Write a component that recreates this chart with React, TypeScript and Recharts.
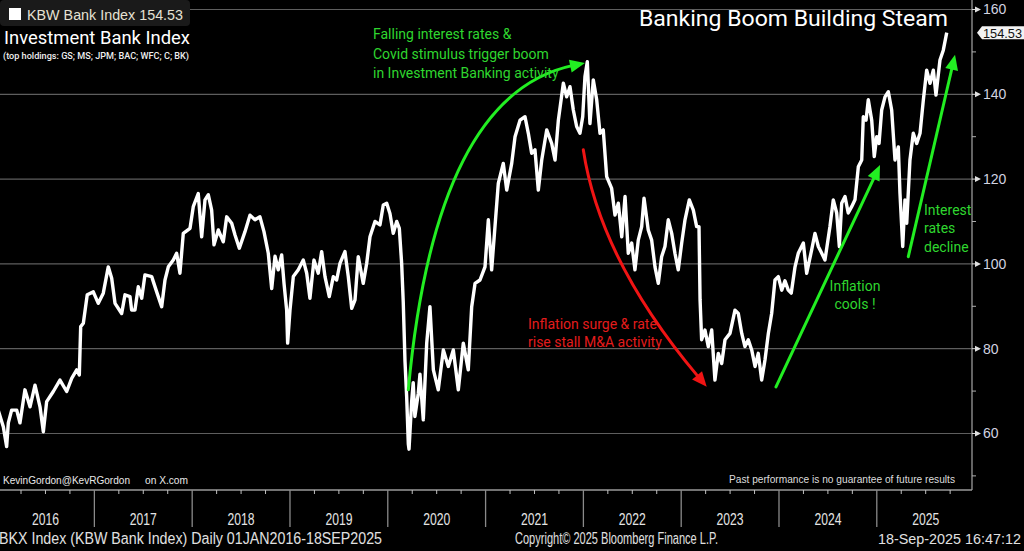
import React from 'react';
import { ComposedChart, Line, XAxis, YAxis, CartesianGrid, ReferenceLine } from 'recharts';

// Time axis in decimal years, and KBW Bank Index values
const TIME_YEARS: number[] = [
  2016.010, 2016.069, 2016.103, 2016.120, 2016.154, 2016.206, 2016.239, 2016.290, 2016.342, 2016.393,
  2016.444, 2016.478, 2016.512, 2016.580, 2016.648, 2016.717, 2016.768, 2016.819, 2016.846, 2016.860,
  2016.887, 2016.927, 2016.989, 2017.040, 2017.091, 2017.142, 2017.177, 2017.211, 2017.279, 2017.313,
  2017.364, 2017.381, 2017.415, 2017.449, 2017.484, 2017.517, 2017.586, 2017.637, 2017.688, 2017.722,
  2017.756, 2017.807, 2017.841, 2017.875, 2017.909, 2017.978, 2018.011, 2018.062, 2018.097, 2018.131,
  2018.165, 2018.199, 2018.223, 2018.267, 2018.318, 2018.353, 2018.404, 2018.438, 2018.482, 2018.540,
  2018.591, 2018.642, 2018.693, 2018.734, 2018.778, 2018.813, 2018.847, 2018.880, 2018.915, 2018.939,
  2018.966, 2018.976, 2019.000, 2019.034, 2019.085, 2019.136, 2019.171, 2019.204, 2019.245, 2019.289,
  2019.324, 2019.358, 2019.402, 2019.443, 2019.477, 2019.511, 2019.562, 2019.596, 2019.631, 2019.665,
  2019.698, 2019.749, 2019.784, 2019.818, 2019.869, 2019.920, 2019.954, 2019.989, 2020.022, 2020.056,
  2020.091, 2020.118, 2020.142, 2020.158, 2020.176, 2020.193, 2020.210, 2020.217, 2020.244, 2020.260,
  2020.277, 2020.312, 2020.329, 2020.363, 2020.398, 2020.431, 2020.466, 2020.516, 2020.568, 2020.619,
  2020.670, 2020.721, 2020.772, 2020.823, 2020.858, 2020.892, 2020.943, 2020.994, 2021.028, 2021.062,
  2021.096, 2021.130, 2021.181, 2021.216, 2021.267, 2021.301, 2021.352, 2021.403, 2021.437, 2021.471,
  2021.505, 2021.539, 2021.574, 2021.625, 2021.676, 2021.710, 2021.744, 2021.795, 2021.829, 2021.863,
  2021.897, 2021.931, 2021.965, 2021.993, 2022.016, 2022.040, 2022.067, 2022.101, 2022.136, 2022.170,
  2022.203, 2022.238, 2022.289, 2022.323, 2022.357, 2022.392, 2022.426, 2022.459, 2022.494, 2022.527,
  2022.561, 2022.596, 2022.620, 2022.663, 2022.698, 2022.732, 2022.766, 2022.800, 2022.834, 2022.868,
  2022.903, 2022.936, 2022.970, 2023.005, 2023.039, 2023.083, 2023.124, 2023.158, 2023.182, 2023.193,
  2023.209, 2023.243, 2023.277, 2023.312, 2023.345, 2023.379, 2023.414, 2023.448, 2023.499, 2023.550,
  2023.584, 2023.619, 2023.652, 2023.686, 2023.721, 2023.755, 2023.788, 2023.823, 2023.857, 2023.891,
  2023.925, 2023.959, 2023.993, 2024.028, 2024.061, 2024.095, 2024.125, 2024.164, 2024.197, 2024.249,
  2024.283, 2024.334, 2024.368, 2024.402, 2024.437, 2024.470, 2024.521, 2024.555, 2024.590, 2024.617,
  2024.641, 2024.675, 2024.708, 2024.743, 2024.777, 2024.811, 2024.846, 2024.862, 2024.890, 2024.913,
  2024.948, 2024.974, 2024.999, 2025.023, 2025.050, 2025.084, 2025.118, 2025.152, 2025.186, 2025.220,
  2025.237, 2025.265, 2025.288, 2025.306, 2025.339, 2025.373, 2025.408, 2025.442, 2025.476, 2025.510,
  2025.544, 2025.578, 2025.605, 2025.646, 2025.680, 2025.715,
];

const BKX_VALUES: number[] = [
  66.0, 61.6, 56.9, 62.5, 65.5, 65.5, 62.5, 70.3, 66.3, 71.4,
  66.3, 60.4, 67.5, 69.9, 72.6, 69.9, 73.0, 75.0, 73.8, 85.2,
  86.0, 92.7, 93.4, 90.7, 93.1, 99.3, 96.6, 90.7, 88.3, 92.7,
  92.3, 89.1, 89.1, 94.6, 91.9, 97.4, 97.0, 93.4, 89.9, 96.2,
  99.3, 100.9, 102.5, 97.8, 107.2, 108.4, 113.5, 116.6, 106.4, 115.1,
  116.3, 112.7, 104.5, 108.0, 105.2, 111.1, 109.6, 106.8, 103.7, 107.6,
  111.5, 110.4, 111.1, 107.6, 102.5, 94.2, 101.8, 98.6, 102.1, 95.4,
  89.1, 81.3, 89.1, 97.0, 98.6, 100.9, 97.8, 91.9, 100.9, 97.8,
  102.9, 97.0, 92.3, 97.0, 96.2, 100.1, 102.9, 97.0, 89.5, 91.5,
  101.7, 95.4, 100.1, 106.4, 110.0, 109.2, 113.9, 114.3, 111.9, 107.2,
  110.0, 108.4, 100.0, 91.0, 77.0, 68.7, 57.5, 56.3, 67.5, 72.0,
  64.0, 69.5, 74.0, 63.2, 81.3, 89.9, 75.0, 70.3, 79.7, 75.8,
  79.7, 70.3, 81.3, 75.0, 89.9, 95.4, 96.2, 99.3, 110.4, 98.6,
  108.8, 119.0, 123.7, 117.4, 123.7, 130.0, 133.9, 134.7, 130.8, 126.1,
  126.9, 117.4, 124.5, 131.6, 128.4, 124.5, 133.9, 142.6, 139.4, 141.8,
  136.3, 132.4, 130.8, 134.7, 144.2, 147.7, 133.1, 143.4, 138.7, 130.8,
  131.6, 120.6, 117.8, 111.5, 114.3, 106.4, 115.9, 102.5, 104.9, 98.6,
  105.6, 108.8, 115.5, 108.0, 105.6, 99.3, 95.4, 101.7, 104.1, 110.4,
  107.2, 102.5, 98.6, 104.9, 110.4, 115.1, 112.7, 108.8, 108.8, 91.5,
  82.1, 84.4, 80.5, 84.4, 72.6, 78.9, 76.5, 82.1, 83.6, 89.1,
  88.3, 83.6, 80.5, 82.1, 79.7, 75.8, 78.9, 72.6, 77.4, 83.6,
  88.3, 96.2, 97.0, 93.8, 96.0, 93.8, 93.1, 99.3, 102.5, 104.9,
  97.8, 103.3, 107.2, 104.1, 102.5, 100.9, 108.8, 115.1, 112.0, 104.1,
  114.3, 115.9, 112.0, 113.5, 115.1, 122.9, 124.5, 134.7, 133.9, 138.7,
  133.9, 125.3, 130.0, 128.4, 136.3, 139.4, 140.6, 136.3, 124.5, 127.6,
  116.6, 104.1, 115.1, 109.6, 124.5, 130.8, 128.4, 130.8, 138.7, 145.7,
  142.6, 145.7, 139.8, 148.1, 150.4, 154.53,
];

const LAST_VALUE = 154.53;
const Y_TICKS = [50, 60, 70, 80, 90, 100, 110, 120, 130, 140, 150, 160];
const GRID_VALUES = [60, 80, 100, 120, 140, 160];
const QUARTER_TICKS = [
  2016.25, 2016.5, 2016.75, 2017, 2017.25, 2017.5, 2017.75, 2018, 2018.25, 2018.5, 2018.75,
  2019, 2019.25, 2019.5, 2019.75, 2020, 2020.25, 2020.5, 2020.75, 2021, 2021.25, 2021.5, 2021.75,
  2022, 2022.25, 2022.5, 2022.75, 2023, 2023.25, 2023.5, 2023.75, 2024, 2024.25, 2024.5, 2024.75,
  2025, 2025.25, 2025.5, 2025.75,
];
const YEAR_LABEL_TICKS = [2016.5, 2017.5, 2018.5, 2019.5, 2020.5, 2021.5, 2022.5, 2023.5, 2024.5, 2025.5];
const YEAR_LABELS = ['2016', '2017', '2018', '2019', '2020', '2021', '2022', '2023', '2024', '2025'];

const GREEN = '#22ee22';
const GREEN_TEXT = '#2fd62f';
const RED = '#f01414';
const RED_TEXT = '#e41c1c';

// Annotation arrows anchored in data coordinates (time, index value)
const ARROWS = [
  { from: { t: 2020.21, v: 70.3 }, to: { t: 2022.016, v: 147.4 }, color: GREEN, bend: [0.153, 0.902] },
  { from: { t: 2021.999, v: 126.9 }, to: { t: 2023.261, v: 71.0 }, color: RED, bend: [0.135, 0.465] },
  { from: { t: 2023.969, v: 71.0 }, to: { t: 2025.033, v: 123.3 }, color: GREEN, bend: null },
  { from: { t: 2025.322, v: 101.7 }, to: { t: 2025.8, v: 149.3 }, color: GREEN, bend: null },
];

const BB_FONT = "'Liberation Sans', Arial, sans-serif";
const RB_FONT = "Roboto, 'Noto Sans', sans-serif";

function makeArrowShape(color: string, bend: number[] | null) {
  return (props: any) => {
    const { x1, y1, x2, y2 } = props;
    if ([x1, y1, x2, y2].some((n) => typeof n !== 'number' || isNaN(n))) return <g />;
    const cx = bend ? x1 + bend[0] * (x2 - x1) : (x1 + x2) / 2;
    const cy = bend ? y1 + bend[1] * (y2 - y1) : (y1 + y2) / 2;
    let dx = x2 - cx;
    let dy = y2 - cy;
    const len = Math.hypot(dx, dy) || 1;
    dx /= len;
    dy /= len;
    const headLen = 15;
    const headW = 6.5;
    const bx = x2 - dx * headLen;
    const by = y2 - dy * headLen;
    const d = bend ? `M${x1},${y1} Q${cx},${cy} ${bx + dx * 2},${by + dy * 2}` : `M${x1},${y1} L${bx + dx * 2},${by + dy * 2}`;
    const pts = `${x2},${y2} ${bx - dy * headW},${by + dx * headW} ${bx + dy * headW},${by - dx * headW}`;
    return (
      <g>
        <path d={d} fill="none" stroke={color} strokeWidth={3} strokeLinecap="round" />
        <polygon points={pts} fill={color} />
      </g>
    );
  };
}

function XTick(props: any) {
  const { x, y, payload } = props;
  const v: number = payload.value;
  const frac = Math.round((v - Math.floor(v)) * 4);
  const idx = YEAR_LABEL_TICKS.indexOf(v);
  return (
    <g>
      {frac === 0 ? (
        <line x1={x} x2={x} y1={y} y2={y + 37} stroke="#8a8a8a" strokeWidth={1.3} />
      ) : (
        <line x1={x} x2={x} y1={y} y2={y + 4} stroke="#c0c0c0" strokeWidth={1} />
      )}
      {idx >= 0 && (
        <text x={x} y={y + 35} textAnchor="middle" fontFamily={BB_FONT} fontSize={16} fill="#e4e4e4" textLength={27} lengthAdjust="spacingAndGlyphs">
          {YEAR_LABELS[idx]}
        </text>
      )}
    </g>
  );
}

function YTick(props: any) {
  const { x, y, payload } = props;
  const v: number = payload.value;
  if (v === LAST_VALUE) {
    return (
      <g>
        <polygon points={`${x + 5},${y} ${x + 10},${y - 6.5} ${x + 60},${y - 6.5} ${x + 60},${y + 6.5} ${x + 10},${y + 6.5}`} fill="#f2f2f2" />
        <text x={x + 11} y={y + 5} fontFamily={BB_FONT} fontSize={13.5} fill="#111" textLength={39} lengthAdjust="spacingAndGlyphs">
          {LAST_VALUE.toFixed(2)}
        </text>
      </g>
    );
  }
  if (v % 20 === 0) {
    return (
      <g>
        <line x1={x} x2={x + 4} y1={y} y2={y} stroke="#dcdcdc" strokeWidth={1} />
        <polygon points={`${x + 3},${y - 3} ${x + 9},${y} ${x + 3},${y + 3}`} fill="#e0e0e0" />
        <text x={x + 11} y={y + 5} fontFamily={BB_FONT} fontSize={14} fill="#d2d3e0">
          {String(v)}
        </text>
      </g>
    );
  }
  return <line x1={x} x2={x + 4} y1={y} y2={y} stroke="#b0b0b0" strokeWidth={1} />;
}

export default function App() {
  const n = Math.min(TIME_YEARS.length, BKX_VALUES.length);
  const data = TIME_YEARS.slice(0, n).map((t, i) => ({ t, v: BKX_VALUES[i] }));
  const yTicks = [...Y_TICKS, LAST_VALUE];
  return (
    <div style={{ position: 'fixed', left: 0, top: 0, width: 1024, height: 551, background: '#000', overflow: 'hidden' }}>
      <ComposedChart width={1024} height={551} data={data} margin={{ top: 0, right: 0, bottom: 20, left: 0 }}>
        <CartesianGrid vertical={false} horizontalValues={GRID_VALUES} stroke="#5e5e5e" strokeWidth={1.2} />
        <XAxis
          type="number"
          dataKey="t"
          domain={[2016.035, 2025.9734]}
          allowDataOverflow
          ticks={QUARTER_TICKS}
          interval={0}
          tick={(p: any) => <XTick {...p} />}
          tickLine={false}
          tickSize={0}
          tickMargin={0}
          height={41}
          axisLine={{ stroke: '#9a9a9a', strokeWidth: 1.3 }}
        />
        <YAxis
          orientation="right"
          type="number"
          domain={[46.67, 162.24]}
          allowDataOverflow
          ticks={yTicks}
          interval={0}
          tick={(p: any) => <YTick {...p} />}
          tickLine={false}
          tickSize={0}
          tickMargin={0}
          width={52}
          axisLine={{ stroke: '#9a9a9a', strokeWidth: 1.3 }}
        />
        <Line type="linear" dataKey="v" stroke="#ffffff" strokeWidth={3.4} strokeLinejoin="round" dot={false} activeDot={false} isAnimationActive={false} />
        {ARROWS.map((a, i) => (
          <ReferenceLine
            key={i}
            segment={[{ x: a.from.t, y: a.from.v }, { x: a.to.t, y: a.to.v }]}
            ifOverflow="visible"
            shape={makeArrowShape(a.color, a.bend)}
          />
        ))}
      </ComposedChart>
      <svg width={1024} height={551} style={{ position: 'absolute', left: 0, top: 0, pointerEvents: 'none' }}>
        {/* legend box */}
        <rect x={0} y={0} width={190} height={26} rx={4} fill="#1a1a1a" />
        <rect x={9} y={8} width={12} height={12} fill="#ffffff" />
        <text x={27} y={20} fontFamily={BB_FONT} fontSize={14} fill="#e6e2d4" textLength={156} lengthAdjust="spacingAndGlyphs">
          {`KBW Bank Index ${LAST_VALUE.toFixed(2)}`}
        </text>
        <text x={4} y={44} fontFamily={RB_FONT} fontSize={18} fill="#ffffff" textLength={186} lengthAdjust="spacingAndGlyphs">
          Investment Bank Index
        </text>
        <text x={3} y={59} fontFamily={RB_FONT} fontSize={9.5} fontWeight={500} fill="#eeeeee" textLength={186} lengthAdjust="spacingAndGlyphs">
          (top holdings: GS; MS; JPM; BAC; WFC; C; BK)
        </text>
        <text x={639} y={26} fontFamily={RB_FONT} fontSize={22} fill="#ffffff" textLength={309} lengthAdjust="spacingAndGlyphs">
          Banking Boom Building Steam
        </text>

        {/* annotations */}
        <g fontFamily={RB_FONT} fontSize={14} fill={GREEN_TEXT}>
          <text x={373} y={39}>Falling interest rates &amp;</text>
          <text x={373} y={58.5}>Covid stimulus trigger boom</text>
          <text x={373} y={78}>in Investment Banking activity</text>
          <text x={855} y={290.5} textAnchor="middle">Inflation</text>
          <text x={855} y={308.5} textAnchor="middle">cools !</text>
          <text x={924} y={215}>Interest</text>
          <text x={924} y={233.3}>rates</text>
          <text x={924} y={251.7}>decline</text>
        </g>
        <g fontFamily={RB_FONT} fontSize={14} fill={RED_TEXT}>
          <text x={528} y={329}>Inflation surge &amp; rate</text>
          <text x={528} y={347}>rise stall M&amp;A activity</text>
        </g>

        {/* bottom notes */}
        <text x={3} y={484} fontFamily={BB_FONT} fontSize={11} fill="#e8e8e8" textLength={127} lengthAdjust="spacingAndGlyphs">
          KevinGordon@KevRGordon
        </text>
        <text x={145} y={484} fontFamily={BB_FONT} fontSize={11} fill="#e8e8e8" textLength={43} lengthAdjust="spacingAndGlyphs">
          on X.com
        </text>
        <text x={729} y={483} fontFamily={BB_FONT} fontSize={10.5} fill="#dddddd" textLength={226} lengthAdjust="spacingAndGlyphs">
          Past performance is no guarantee of future results
        </text>

        {/* footer */}
        <g fontFamily={BB_FONT} fontSize={16} fill="#e0e0e0">
          <text x={-1} y={543.5} textLength={383} lengthAdjust="spacingAndGlyphs">BKX Index (KBW Bank Index)  Daily 01JAN2016-18SEP2025</text>
          <text x={515} y={543.5} textLength={203} lengthAdjust="spacingAndGlyphs">Copyright© 2025 Bloomberg Finance L.P.</text>
          <text x={878} y={543.5} fontSize={14.3} textLength={143} lengthAdjust="spacingAndGlyphs">18-Sep-2025 16:47:12</text>
        </g>
      </svg>
    </div>
  );
}
